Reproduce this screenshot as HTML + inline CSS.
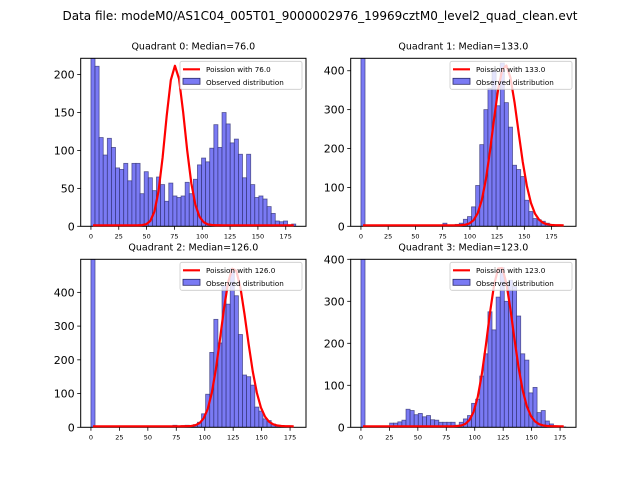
<!DOCTYPE html>
<html><head><meta charset="utf-8"><style>
body{margin:0;background:#fff;}
svg{display:block;font-family:"DejaVu Sans","Liberation Sans",sans-serif;}
</style></head><body>
<svg id="fig" width="640" height="480" viewBox="0 0 640 480">
<rect width="640" height="480" fill="#fff"/>
<text x="320" y="20" text-anchor="middle" font-size="12">Data file: modeM0/AS1C04_005T01_9000002976_19969cztM0_level2_quad_clean.evt</text>
</svg>
<script>
// Quadrant data (50 bins each)
const q0Counts = [225,211,117,94,116,104,77,75,83,60,83,83,43,72,64,47,65,55,33,57,40,38,40,58,43,62,81,90,85,103,134,104,150,135,110,115,95,64,95,55,38,40,36,26,17,7,6,7,2,3];
const q1Counts = [900,0,0,0,0,0,0,0,0,0,0,0,0,0,0,0,0,2,2,3,8,2,3,5,8,18,25,50,105,210,300,355,400,310,420,318,255,157,146,128,67,38,20,17,13,8,5,2,0,0];
const q2Counts = [900,0,0,0,0,0,0,0,0,0,0,0,0,0,0,0,0,0,0,3,6,4,5,6,3,8,15,40,98,222,320,250,420,365,470,390,275,155,150,125,60,48,25,20,10,5,3,2,0,0];
const q3Counts = [900,0,0,0,0,3,0,10,10,13,17,43,40,30,33,25,28,18,17,12,12,12,12,5,12,20,28,57,67,122,175,275,232,310,380,300,350,335,265,175,160,82,95,35,40,15,8,3,3,1];
const binMax = [184,188,180,180];
const medians = [76.0,133.0,126.0,123.0];
const peakHeights = [210,412,470,381];
const yMaxes = [221.5,432,498,400];
const yTicks = [[0,50,100,150,200],[0,100,200,300,400],[0,100,200,300,400],[0,100,200,300,400]];
const xTicks = [0,25,50,75,100,125,150,175];

const NS="http://www.w3.org/2000/svg";
const svg=document.getElementById('fig');
function mk(tag,attrs,parent){const e=document.createElementNS(NS,tag);for(const k in attrs)e.setAttribute(k,attrs[k]);(parent||svg).appendChild(e);return e;}
function lgamma(x){
  if(x<7){let r=0;while(x<7){r-=Math.log(x);x+=1;}return r+lgamma(x);}
  return (x-0.5)*Math.log(x)-x+0.5*Math.log(2*Math.PI)+1/(12*x)-1/(360*x*x*x);
}
function poisson(k,l){if(k<0)return 0;return Math.exp(k*Math.log(l)-l-lgamma(k+1));}

const counts=[q0Counts,q1Counts,q2Counts,q3Counts];
const pos=[[80.7,58.3],[350.7,58.3],[80.7,259.3],[350.7,259.3]];
const W=225.3,H=168;
for(let q=0;q<4;q++){
  const [L,T]=pos[q];
  const data=counts[q];
  const n=data.length, bw=binMax[q]/n;
  const xmin=-0.05*binMax[q], xmax=binMax[q]*1.05, ymax=yMaxes[q];
  const X=v=>L+(v-xmin)/(xmax-xmin)*W;
  const Y=v=>T+H-Math.min(v,ymax*1.05)/ymax*H;
  const g=mk('g',{});
  
  
  const cp=mk('clipPath',{id:'c'+q},g);mk('rect',{x:L,y:T,width:W,height:H},cp);
  const cp2=mk('clipPath',{id:'d'+q},g);mk('rect',{x:L,y:T,width:W,height:H+3},cp2);
  const t=mk('text',{x:L+W/2,y:T-9,'text-anchor':'middle','font-size':'9.5'},g);
  t.textContent='Quadrant '+q+': Median='+medians[q].toFixed(1);
  
  
  const bars=mk('g',{'clip-path':'url(#c'+q+')'},g);
  for(let i=0;i<n;i++){
    if(data[i]<=0)continue;
    const r=mk('rect',{x:X(i*bw),y:Y(data[i]),width:X((i+1)*bw)-X(i*bw),height:T+H-Y(data[i]),fill:'#7a7af4',stroke:'#2a2a6a','stroke-width':'0.8','stroke-opacity':'0.7'},bars);
    
    
  }
  mk('rect',{x:L,y:T,width:W,height:H,fill:'none',stroke:'#000','stroke-width':'1'},g);
  const pk=poisson(Math.round(medians[q]),medians[q]);
  let d='';
  for(let i=0;i<n;i++){const c=(i+0.5)*bw;const v=poisson(c,medians[q])/pk*peakHeights[q];d+=(i?'L':'M')+X(c).toFixed(2)+','+(Y(v)-1).toFixed(2);}
  const p=mk('path',{d:d,fill:'none',stroke:'#ff0000','stroke-width':'2.2','stroke-linejoin':'round','clip-path':'url(#d'+q+')'},g);
  
  
  for(const v of yTicks[q]){
    mk('line',{x1:L-3.5,x2:L,y1:Y(v),y2:Y(v),stroke:'#000','stroke-width':'0.8'},g);
    const tt=mk('text',{x:L-6,y:Y(v)+4,'text-anchor':'end','font-size':'11'},g);tt.textContent=v;
    
    
  }
  for(const v of xTicks){
    mk('line',{x1:X(v),x2:X(v),y1:T+H,y2:T+H+3.5,stroke:'#000','stroke-width':'0.8'},g);
    const tt=mk('text',{x:X(v),y:T+H+12,'text-anchor':'middle','font-size':'6.5'},g);tt.textContent=v;
    
    
  }
  const lg=mk('g',{},g);
  
  
  const lx=L+W-126, ly=T+3;
  mk('rect',{x:lx,y:ly,width:122,height:28,fill:'#fff','fill-opacity':'0.8',stroke:'#ccc','stroke-width':'0.8',rx:2},lg);
  mk('line',{x1:lx+3,x2:lx+20,y1:ly+8,y2:ly+8,stroke:'#ff0000','stroke-width':'2.2'},lg);
  const l1=mk('text',{x:lx+26,y:ly+10.5,'font-size':'7.2'},lg);l1.textContent='Poission with '+medians[q].toFixed(1);
  mk('rect',{x:lx+3,y:ly+17,width:17,height:6,fill:'#7a7af4',stroke:'#2a2a6a','stroke-width':'0.8'},lg);
  const l2=mk('text',{x:lx+26,y:ly+23.5,'font-size':'7.2'},lg);l2.textContent='Observed distribution';
}
</script>
</body></html>
